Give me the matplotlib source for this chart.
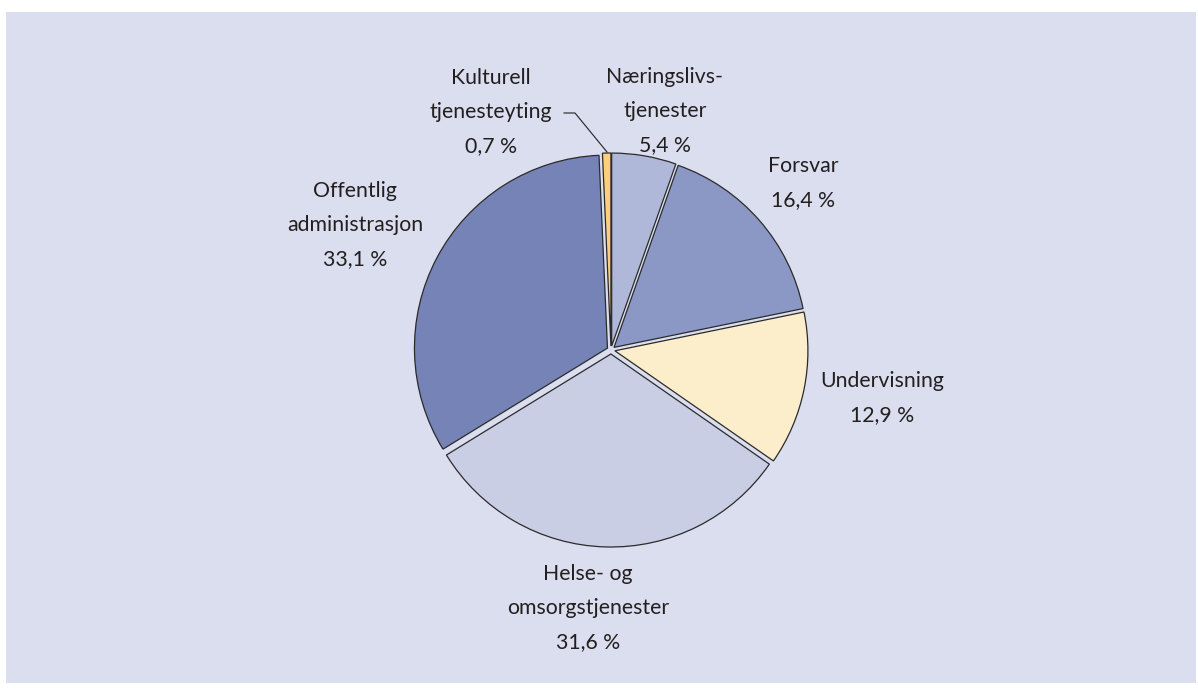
import matplotlib
matplotlib.use('Agg')
import matplotlib.pyplot as plt
from matplotlib.patches import Rectangle

# data
labels = ['Næringslivs-\ntjenester', 'Forsvar', 'Undervisning',
          'Helse- og\nomsorgstjenester', 'Offentlig\nadministrasjon',
          'Kulturell\ntjenesteyting']
shares = [5.4, 16.4, 12.9, 31.6, 33.1, 0.7]
pct_text = ['5,4 %', '16,4 %', '12,9 %', '31,6 %', '33,1 %', '0,7 %']
colors = ['#b0b8d9', '#8b97c4', '#fdeecb', '#c9cee5', '#7683b6', '#fcd07a']

# label positions in pixel coords (from top-left)
label_pos = [(665, 111), (803, 183), (882, 398), (588, 608), (355, 225), (491, 112)]

W, H = 1198, 693
plt.rcParams['font.family'] = ['Lato', 'DejaVu Sans']

fig = plt.figure(figsize=(W / 100, H / 100), dpi=100)
ax = fig.add_axes([0, 0, 1, 1])

# background panel
ax.add_patch(Rectangle((6, H - 683), 1190, 671, facecolor='#dadeee',
                       edgecolor='none', zorder=0))

# explode is in data units (pixels here)
wedges, _ = ax.pie(shares, colors=colors, startangle=90, counterclock=False,
                   center=(611, H - 350), radius=193,
                   explode=[4] * len(shares),
                   wedgeprops=dict(edgecolor='#2b2b2b', linewidth=0.9),
                   frame=True)
ax.set_xlim(0, W)
ax.set_ylim(0, H)
ax.set_aspect('equal')
ax.axis('off')

for lab, pct, (x, y) in zip(labels, pct_text, label_pos):
    ax.text(x, H - y, lab + '\n' + pct, ha='center', va='center',
            fontsize=15.3, color='#231f20', linespacing=1.87, zorder=5)

# leader line for the small slice
ax.plot([564, 575, 607], [H - 113, H - 113, H - 152], color='#231f20',
        linewidth=0.8, zorder=4)

fig.savefig('out.png', dpi=100, facecolor='white')
